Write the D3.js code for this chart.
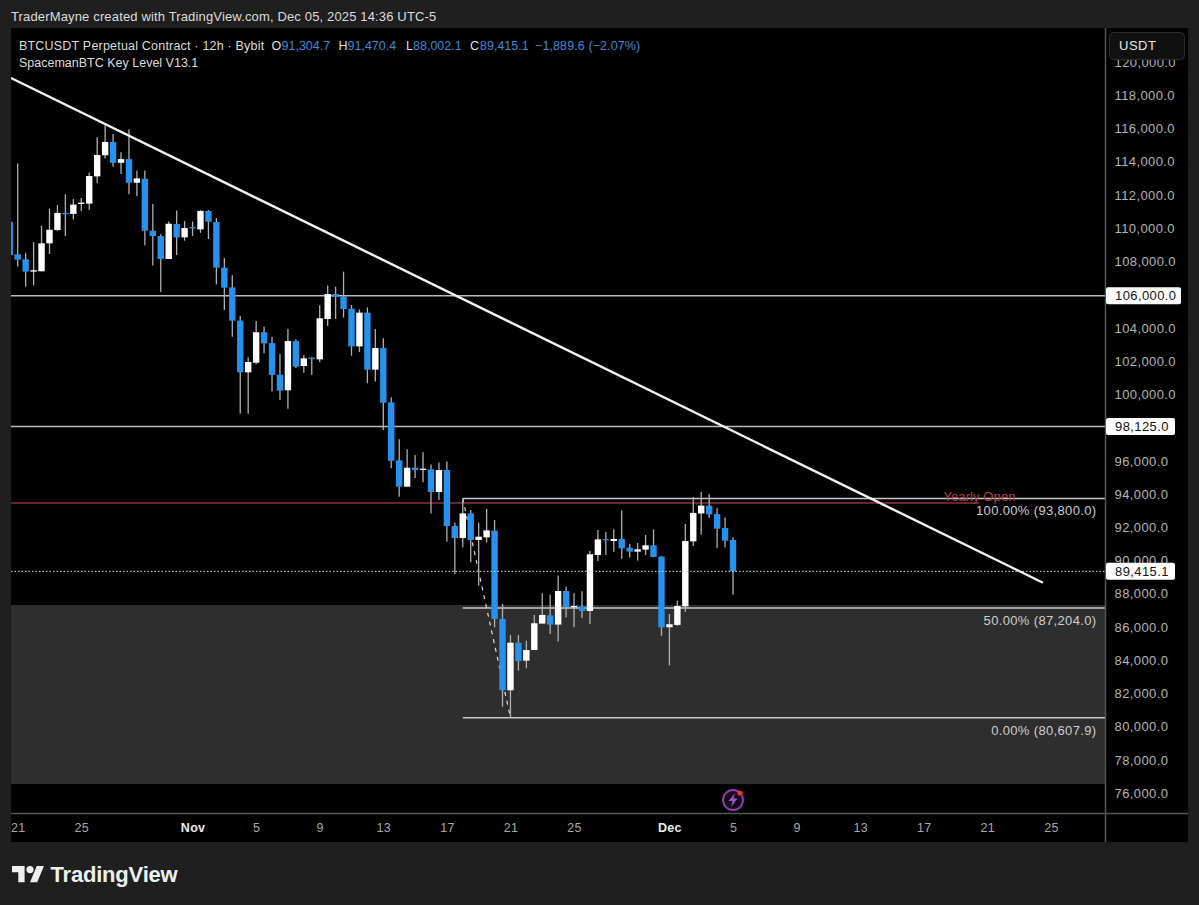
<!DOCTYPE html>
<html>
<head>
<meta charset="utf-8">
<script src="https://cdn.jsdelivr.net/npm/d3@7"></script>
<style>
body { margin: 0; background: #1f1f1f; }
text { font-family: "Liberation Sans", sans-serif; }
.tick text { font-family: "Liberation Sans", sans-serif; }
</style>
</head>
<body>
<div id="chart"></div>
<script>
// candles, 12h bars
var opens = [110450,108490,108190,107450,107470,109150,109950,110980,110920,111520,111540,113180,114450,115250,114000,114220,112800,113040,109910,109590,108210,110310,109510,110130,109990,111100,110430,107690,106500,104500,101390,101970,103800,103150,101250,100310,103270,101770,102270,102170,104600,106100,105940,105220,102950,104980,101550,102850,99580,96090,94510,95650,95530,95550,94190,95510,92140,91420,92900,91300,91460,91860,86550,82260,85120,84040,84680,86270,86770,86210,88230,87250,87310,87030,90400,91360,91240,91360,90840,90600,90720,90980,90300,86050,86190,87310,91220,92900,93370,92860,92020,91304.7];
var highs = [110700,113960,108590,109210,110230,111240,111460,112100,111820,111880,113400,115530,116250,115730,114630,116010,113520,113540,111520,109690,110470,111120,110490,110470,111140,111160,110670,108270,107230,104780,102290,104480,104140,103530,102490,104000,103370,102410,102290,105420,106620,106540,107450,105440,105180,105300,104000,103440,99890,97360,96760,96420,96580,95850,95970,96030,92340,93810,93110,92340,93170,92500,87450,85580,85580,85240,86790,88090,88010,89170,88490,88110,88210,90640,91900,91780,91940,93070,91060,91120,91600,91940,90340,86850,87650,92260,93890,94190,94050,93230,92660,91470.4];
var lows = [108200,107750,106540,106620,107470,108510,109910,109590,110600,111100,111160,112760,114250,113760,113320,112100,112000,109030,107810,106220,108210,108450,109310,109590,109790,109410,106680,105140,103530,98900,98900,101870,102530,100230,99720,99200,101650,101370,101230,101990,104180,104600,104680,102390,102610,100730,100830,97920,95610,93910,94510,95030,94770,92900,93710,91200,89260,90860,89960,88550,91140,86050,81270,80610,83440,83580,84680,86270,85640,85200,86650,86050,86610,86250,90040,90420,90600,90160,90240,90060,90400,90260,85540,83760,86130,86990,90940,91620,92620,90820,90860,88002.1];
var closes = [108450,108170,107450,107530,109150,109970,110980,110900,111480,111600,113200,114470,115250,114000,114220,112800,113060,109910,109590,108210,110330,109510,110070,110050,111100,110450,107690,106480,104500,101390,102010,103800,103130,101230,100290,103270,101730,102230,102190,104640,106100,105940,105200,102950,104980,101550,102850,99560,96070,94510,95650,95510,95590,94190,95510,92140,91420,92900,91300,91500,91880,86550,82260,85120,84020,84680,86290,86790,86210,88230,87270,87330,87030,90440,91340,91300,91360,90800,90600,90740,90980,90280,86050,86230,87330,91240,92930,93370,92840,91980,91260,89415.1];

var priceTicks = [120000,118000,116000,114000,112000,110000,108000,106000,104000,102000,100000,98000,96000,94000,92000,90000,88000,86000,84000,82000,80000,78000,76000];
var dayTickBars = [1,9,23,31,39,47,55,63,71,83,91,99,107,115,123,131];
var dayTickLabels = ["21","25","Nov","5","9","13","17","21","25","Dec","5","9","13","17","21","25"];

var keyLevels = [106000, 98125];
var priceTags = [106000, 98125, 89415.1];
var lastPrice = 89415.1;
var yearlyOpen = 93527;
var fibLevels = [93800, 87204, 80607.9];
var fibLabels = ["100.00% (93,800.0)", "50.00% (87,204.0)", "0.00% (80,607.9)"];
var fibBars = [57, 63];
var zonePrices = [87390, 76620];
var trendBars = [0.16, 130];
var trendPrices = [119100, 88730];

var width = 1199, height = 905;
var pane = {left: 11, right: 1105.5, top: 28, bottom: 813.5, axisRight: 1188, axisBottom: 842};

var x = d3.scaleLinear().domain([0, 91]).range([9.75, 733]);
var y = d3.scaleLinear().domain([106000, 80607.9]).range([295.7, 717.7]);

var svg = d3.select("#chart").append("svg")
  .attr("width", width)
  .attr("height", height)
  .style("display", "block");

// black panel with price and time axes
svg.append("rect")
  .attr("x", pane.left).attr("y", pane.top)
  .attr("width", pane.axisRight - pane.left)
  .attr("height", pane.axisBottom - pane.top)
  .attr("fill", "#000");

svg.append("clipPath").attr("id", "plot")
  .append("rect")
  .attr("x", pane.left).attr("y", pane.top)
  .attr("width", pane.right - pane.left)
  .attr("height", pane.bottom - pane.top);

var plot = svg.append("g").attr("clip-path", "url(#plot)");

// grey zone
plot.append("rect")
  .attr("x", pane.left)
  .attr("y", y(zonePrices[0]))
  .attr("width", pane.right - pane.left)
  .attr("height", y(zonePrices[1]) - y(zonePrices[0]))
  .attr("fill", "#2e2e2e");

// key levels
plot.selectAll(".key").data(keyLevels).enter().append("line")
  .attr("x1", pane.left).attr("x2", pane.right)
  .attr("y1", function(d) { return y(d); })
  .attr("y2", function(d) { return y(d); })
  .attr("stroke", "#bcbcbc")
  .attr("stroke-width", 1.5);

// yearly open
plot.append("line")
  .attr("x1", pane.left).attr("x2", 979)
  .attr("y1", y(yearlyOpen)).attr("y2", y(yearlyOpen))
  .attr("stroke", "#8e3236")
  .attr("stroke-width", 1.6);

// fib levels
plot.selectAll(".fib").data(fibLevels).enter().append("line")
  .attr("x1", x(fibBars[0])).attr("x2", pane.right)
  .attr("y1", function(d) { return y(d); })
  .attr("y2", function(d) { return y(d); })
  .attr("stroke", "#c8c8c8")
  .attr("stroke-width", 1.5);

// dashed fib trend
plot.append("line")
  .attr("x1", x(fibBars[0])).attr("x2", x(fibBars[1]))
  .attr("y1", y(fibLevels[0])).attr("y2", y(fibLevels[2]))
  .attr("stroke", "#dcdcdc")
  .attr("stroke-width", 1.2)
  .attr("stroke-dasharray", "4,5");

// candles
var candles = plot.selectAll(".candle").data(opens).enter().append("g").attr("class", "candle");

candles.append("line")
  .attr("x1", function(d, i) { return x(i); })
  .attr("x2", function(d, i) { return x(i); })
  .attr("y1", function(d, i) { return y(highs[i]); })
  .attr("y2", function(d, i) { return y(lows[i]); })
  .attr("stroke", "#b0b0b0")
  .attr("stroke-width", 1.3);

candles.append("rect")
  .attr("x", function(d, i) { return x(i) - 3.2; })
  .attr("width", 6.4)
  .attr("y", function(d, i) { return y(Math.max(d, closes[i])); })
  .attr("height", function(d, i) { return Math.max(1.2, Math.abs(y(d) - y(closes[i]))); })
  .attr("fill", function(d, i) { return closes[i] < d ? "#2592ee" : "#ffffff"; });

// falling trend line
plot.append("line")
  .attr("x1", x(trendBars[0])).attr("x2", x(trendBars[1]))
  .attr("y1", y(trendPrices[0])).attr("y2", y(trendPrices[1]))
  .attr("stroke", "#f2f2f2")
  .attr("stroke-width", 2.4);

// last price dotted
plot.append("line")
  .attr("x1", pane.left).attr("x2", pane.right)
  .attr("y1", y(lastPrice)).attr("y2", y(lastPrice))
  .attr("stroke", "#e0e0e0")
  .attr("stroke-width", 1)
  .attr("stroke-dasharray", "1.5,2");

plot.append("text")
  .attr("x", 979.5).attr("y", y(yearlyOpen) - 2)
  .attr("text-anchor", "middle")
  .attr("font-size", 13).attr("letter-spacing", 0.1)
  .attr("fill", "#ad434a")
  .text("Yearly Open");

plot.selectAll(".fibl").data(fibLabels).enter().append("text")
  .attr("x", 1096.5)
  .attr("y", function(d, i) { return y(fibLevels[i]) + 17; })
  .attr("text-anchor", "end")
  .attr("font-size", 13).attr("letter-spacing", 0.35)
  .attr("fill", "#cfcfcf")
  .text(function(d) { return d; });

// lightning event mark
var mark = svg.append("g").attr("transform", "translate(" + x(91) + ",800)");
mark.append("circle").attr("r", 10).attr("fill", "#140a1a").attr("stroke", "#8f3fb5").attr("stroke-width", 1.8);
mark.append("path").attr("d", "M2,-7 L-4.5,1 L-0.5,1 L-2,7 L4.5,-1.5 L0.5,-1.5 Z").attr("fill", "#a44fd0");
mark.append("circle").attr("cx", 7).attr("cy", -7).attr("r", 2.6).attr("fill", "#f0323c");

// axes
var yAxis = svg.append("g")
  .attr("transform", "translate(" + pane.right + ",0)")
  .call(d3.axisRight(y).tickValues(priceTicks).tickSize(0).tickPadding(9).tickFormat(d3.format(",.1f")));
yAxis.select(".domain").remove();
yAxis.selectAll("text")
  .attr("font-size", 13).attr("letter-spacing", 0.4)
  .attr("fill", "#b4b4b4")
  .attr("dy", "0.24em");

var xAxis = svg.append("g")
  .attr("transform", "translate(0," + pane.bottom + ")")
  .call(d3.axisBottom(x).tickValues(dayTickBars).tickSize(0).tickPadding(10)
    .tickFormat(function(d, i) { return dayTickLabels[i]; }));
xAxis.select(".domain").remove();
xAxis.selectAll("text")
  .attr("font-size", 12.5).attr("letter-spacing", 0.3)
  .attr("fill", function(d, i) { return isNaN(+dayTickLabels[i]) ? "#ececec" : "#a8a8a8"; })
  .attr("font-weight", function(d, i) { return isNaN(+dayTickLabels[i]) ? "bold" : "normal"; });

// axis rules
svg.append("line")
  .attr("x1", pane.right).attr("x2", pane.right)
  .attr("y1", pane.top).attr("y2", pane.axisBottom)
  .attr("stroke", "#555").attr("stroke-width", 1.5);
svg.append("line")
  .attr("x1", pane.left).attr("x2", pane.axisRight)
  .attr("y1", pane.bottom).attr("y2", pane.bottom)
  .attr("stroke", "#555").attr("stroke-width", 1.5);

// price tags
var tags = svg.selectAll(".tag").data(priceTags).enter().append("g")
  .attr("transform", function(d) { return "translate(" + pane.right + "," + y(d) + ")"; });
tags.append("rect")
  .attr("x", 0.5).attr("y", -8.5)
  .attr("width", function(d) { return d >= 100000 ? 75 : 69; })
  .attr("height", 17).attr("rx", 2)
  .attr("fill", "#fff");
tags.append("text")
  .attr("x", 9.5).attr("dy", "0.36em")
  .attr("font-size", 13).attr("letter-spacing", 0.4)
  .attr("fill", "#111")
  .text(function(d) { return d3.format(",.1f")(d); });

// currency button
svg.append("rect")
  .attr("x", 1109.5).attr("y", 32.5).attr("width", 75).attr("height", 27).attr("rx", 4)
  .attr("fill", "#111").attr("stroke", "#2c2c2c");
svg.append("text")
  .attr("x", 1119).attr("y", 50)
  .attr("font-size", 13).attr("letter-spacing", 0.5).attr("fill", "#e8e8e8")
  .text("USDT");

// header texts
svg.append("text")
  .attr("x", 11).attr("y", 21)
  .attr("font-size", 13).attr("letter-spacing", 0.15).attr("fill", "#dcdcdc")
  .text("TraderMayne created with TradingView.com, Dec 05, 2025 14:36 UTC-5");

var legendWhite = "#dedede", legendBlue = "#3a8bdc";
var legend = [
  ["BTCUSDT Perpetual Contract · 12h · Bybit", 19, legendWhite, 0.2],
  ["O", 271.5, legendWhite, 0], ["91,304.7", 281.5, legendBlue, 0],
  ["H", 338.5, legendWhite, 0], ["91,470.4", 347.5, legendBlue, 0],
  ["L", 406, legendWhite, 0], ["88,002.1", 413, legendBlue, 0],
  ["C", 470, legendWhite, 0], ["89,415.1", 480, legendBlue, 0],
  ["−1,889.6 (−2.07%)", 535, legendBlue, 0.1]
];
svg.selectAll(".legend").data(legend).enter().append("text")
  .attr("x", function(d) { return d[1]; })
  .attr("y", 49.5)
  .attr("font-size", 12.5)
  .attr("letter-spacing", function(d) { return d[3]; })
  .attr("fill", function(d) { return d[2]; })
  .text(function(d) { return d[0]; });
svg.append("text")
  .attr("x", 19).attr("y", 66.5)
  .attr("font-size", 12.5).attr("fill", legendWhite)
  .text("SpacemanBTC Key Level V13.1");

// logo
var logo = svg.append("g").attr("transform", "translate(12,862.4) scale(0.9)").attr("fill", "#efefef");
logo.append("path").attr("d", "M14 22H7V11H0V4h14v18zM28 22h-8l7.5-18h8L28 22z");
logo.append("circle").attr("cx", 20).attr("cy", 8).attr("r", 4);
svg.append("text")
  .attr("x", 50.5).attr("y", 881.5)
  .attr("font-size", 22).attr("font-weight", "bold").attr("letter-spacing", -0.2)
  .attr("fill", "#efefef")
  .text("TradingView");
</script>
</body>
</html>
